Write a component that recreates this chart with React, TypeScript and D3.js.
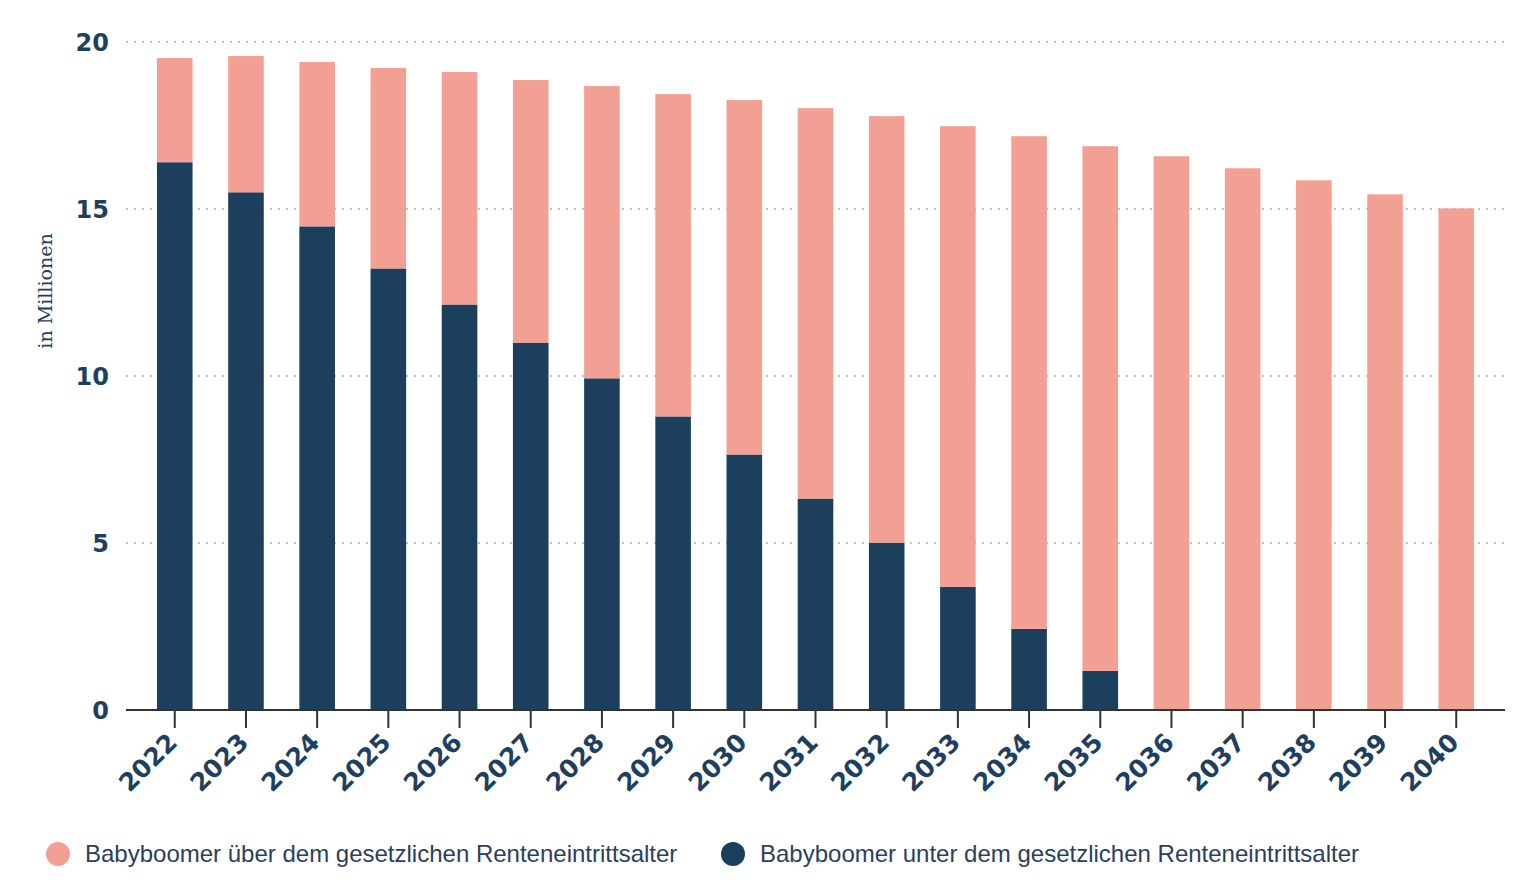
import React from 'react';
import * as d3 from 'd3';

const years = ['2022', '2023', '2024', '2025', '2026', '2027', '2028', '2029', '2030', '2031', '2032', '2033', '2034', '2035', '2036', '2037', '2038', '2039', '2040'];
// Babyboomer unter dem gesetzlichen Renteneintrittsalter (Mio.)
const under = [16.4, 15.5, 14.48, 13.22, 12.14, 11.0, 9.93, 8.79, 7.65, 6.33, 5.01, 3.69, 2.43, 1.17, 0, 0, 0, 0, 0];
// Babyboomer insgesamt (Mio.)
const total = [19.52, 19.58, 19.4, 19.22, 19.1, 18.86, 18.68, 18.44, 18.26, 18.02, 17.78, 17.48, 17.18, 16.88, 16.58, 16.22, 15.86, 15.44, 15.02];
const yTicks = [0, 5, 10, 15, 20];
const legendLabels = [
  'Babyboomer über dem gesetzlichen Renteneintrittsalter',
  'Babyboomer unter dem gesetzlichen Renteneintrittsalter',
];

const W = 1514;
const H = 888;
const navy = '#1c3f5e';
const salmon = '#f3a094';
const textColor = '#1e3f5e';

export default function App() {
  const x = d3.scaleBand<string>().domain(years).range([126, 1505]).paddingInner(0.5).paddingOuter(0.435);
  const y = d3.scaleLinear().domain([0, 20]).range([710, 42]);
  const bw = x.bandwidth();

  return (
    <svg width={W} height={H} style={{ position: 'absolute', left: 0, top: 0, background: '#fff' }}>
      {yTicks.filter(t => t > 0).map(t => (
        <line key={t} x1={126} x2={1505} y1={y(t)} y2={y(t)} stroke="#b9c5d0" strokeWidth={2} strokeDasharray="2,6" />
      ))}
      {yTicks.map(t => (
        <text key={t} x={109} y={y(t)} dy="0.36em" textAnchor="end" fontFamily="DejaVu Sans" fontWeight="bold" fontSize={24} fill={textColor}>
          {t}
        </text>
      ))}
      <text transform={`translate(52,291) rotate(-90)`} textAnchor="middle" fontFamily="DejaVu Serif" fontSize={19} fill={textColor}>
        in Millionen
      </text>
      {years.map((yr, i) => (
        <g key={yr}>
          <rect x={x(yr)} width={bw} y={y(under[i])} height={y(0) - y(under[i])} fill={navy} />
          <rect x={x(yr)} width={bw} y={y(total[i])} height={y(under[i]) - y(total[i])} fill={salmon} />
        </g>
      ))}
      <line x1={126} x2={1505} y1={y(0)} y2={y(0)} stroke="#333" strokeWidth={2} />
      {years.map(yr => {
        const cx = (x(yr) as number) + bw / 2;
        return (
          <g key={yr}>
            <line x1={cx} x2={cx} y1={y(0)} y2={y(0) + 18} stroke="#333" strokeWidth={2} />
            <text transform={`translate(${cx + 4},${y(0) + 34}) rotate(-45)`} textAnchor="end" fontFamily="DejaVu Sans" fontWeight="bold" fontSize={25} fill={textColor}>
              {yr}
            </text>
          </g>
        );
      })}
      {legendLabels.map((lab, i) => {
        const lx = i === 0 ? 58 : 733;
        return (
          <g key={lab}>
            <circle cx={lx} cy={854} r={12} fill={i === 0 ? salmon : navy} />
            <text x={lx + 27} y={854} dy="0.35em" fontFamily="Liberation Sans" fontSize={24} fill="#2b3f5c">
              {lab}
            </text>
          </g>
        );
      })}
    </svg>
  );
}
